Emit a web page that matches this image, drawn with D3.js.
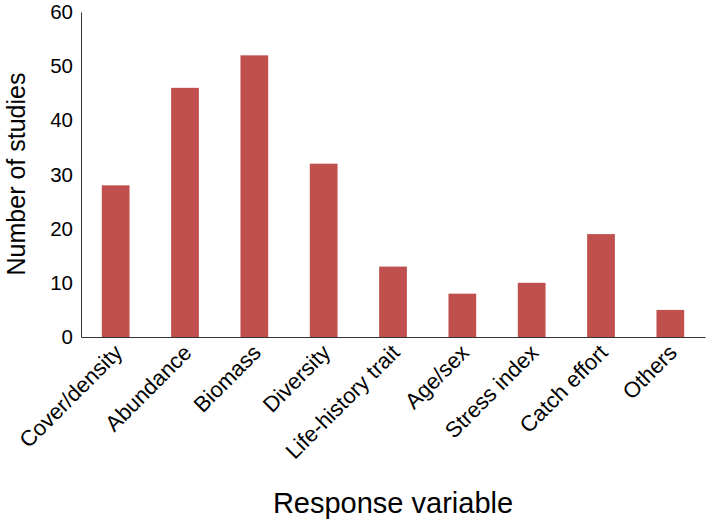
<html>
<head>
<meta charset="utf-8">
<style>
  body { margin: 0; background: #fff; }
  .axis text { font-family: "Liberation Sans", Arial, sans-serif; fill: #000; }
  .axis path { stroke: #333; }
</style>
</head>
<body>
<script src="https://cdn.jsdelivr.net/npm/d3@7"></script>
<script>
  var categories = ["Cover/density", "Abundance", "Biomass", "Diversity", "Life-history trait",
                    "Age/sex", "Stress index", "Catch effort", "Others"];
  var studies = [28, 46, 52, 32, 13, 8, 10, 19, 5];
  var yTicks = [0, 10, 20, 30, 40, 50, 60];

  var width = 709, height = 523;
  var mLeft = 81, mRight = 705, mTop = 12, mBottom = 337;

  var svg = d3.select("body").append("svg")
      .attr("width", width)
      .attr("height", height);

  var x = d3.scaleBand()
      .domain(categories)
      .range([mLeft, mRight])
      .paddingInner(0.6)
      .paddingOuter(0.3);

  var y = d3.scaleLinear()
      .domain([0, 60])
      .range([mBottom, mTop]);

  // bars
  svg.append("g")
    .selectAll("rect")
    .data(studies)
    .join("rect")
      .attr("x", (d, i) => x(categories[i]))
      .attr("y", d => y(d))
      .attr("width", x.bandwidth())
      .attr("height", d => y(0) - y(d))
      .attr("fill", "#c0504d");

  // y axis
  var yAxis = svg.append("g")
      .attr("class", "axis")
      .attr("transform", "translate(" + mLeft + ",0)")
      .call(d3.axisLeft(y).tickValues(yTicks).tickSize(0).tickPadding(8));
  yAxis.selectAll("text").attr("font-size", 20.5);

  // x axis
  var xAxis = svg.append("g")
      .attr("class", "axis")
      .attr("transform", "translate(0," + mBottom + ")")
      .call(d3.axisBottom(x).tickSize(0).tickPadding(0));
  xAxis.selectAll("text")
      .attr("font-size", 22)
      .attr("text-anchor", "end")
      .attr("dy", null)
      .attr("y", 0)
      .attr("transform", "translate(8,17) rotate(-45)");

  // titles
  svg.append("text")
      .attr("transform", "translate(25,174) rotate(-90)")
      .attr("text-anchor", "middle")
      .attr("font-family", "Liberation Sans, Arial, sans-serif")
      .attr("font-size", 25)
      .text("Number of studies");

  svg.append("text")
      .attr("x", 393)
      .attr("y", 513)
      .attr("text-anchor", "middle")
      .attr("font-family", "Liberation Sans, Arial, sans-serif")
      .attr("font-size", 29)
      .text("Response variable");
</script>
</body>
</html>
